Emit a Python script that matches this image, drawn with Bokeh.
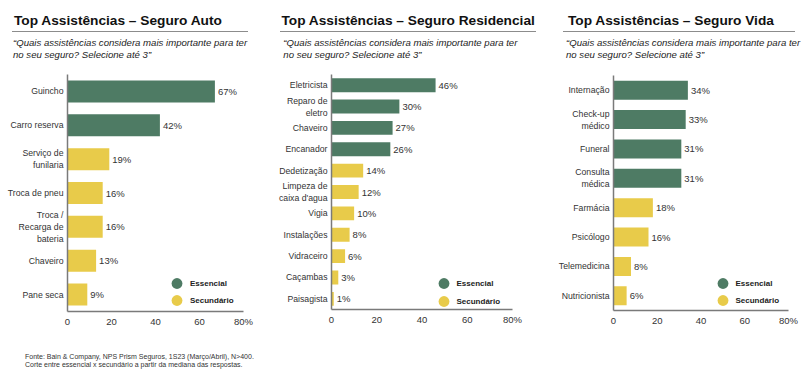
from bokeh.plotting import figure
from bokeh.models import (ColumnDataSource, FactorRange, Range1d, Div,
                          Legend, LegendItem, FixedTicker)
from bokeh.core.properties import value
from bokeh.layouts import row, column
from bokeh.embed import file_html
from bokeh.resources import INLINE

# ---------------- data ----------------
auto_cats = ["Guincho", "Carro reserva", "Serviço de\nfunilaria", "Troca de pneu",
             "Troca /\nRecarga de\nbateria", "Chaveiro", "Pane seca"]
auto_vals = [67, 42, 19, 16, 16, 13, 9]
auto_grp = ["Essencial", "Essencial", "Secundário", "Secundário", "Secundário",
            "Secundário", "Secundário"]

res_cats = ["Eletricista", "Reparo de\neletro", "Chaveiro", "Encanador", "Dedetização",
            "Limpeza de\ncaixa d'agua", "Vigia", "Instalações", "Vidraceiro",
            "Caçambas", "Paisagista"]
res_vals = [46, 30, 27, 26, 14, 12, 10, 8, 6, 3, 1]
res_grp = ["Essencial"] * 4 + ["Secundário"] * 7

vida_cats = ["Internação", "Check-up\nmédico", "Funeral", "Consulta\nmédica",
             "Farmácia", "Psicólogo", "Telemedicina", "Nutricionista"]
vida_vals = [34, 33, 31, 31, 18, 16, 8, 6]
vida_grp = ["Essencial"] * 4 + ["Secundário"] * 4

x_ticks = [0, 20, 40, 60, 80]
x_tick_labels = {80: "80%"}

titles = ["Top Assistências – Seguro Auto",
          "Top Assistências – Seguro Residencial",
          "Top Assistências – Seguro Vida"]
subtitle_lines = ["“Quais assistências considera mais importante para ter",
                  "no seu seguro? Selecione até 3”"]
footnote_lines = ["Fonte: Bain &amp; Company, NPS Prism Seguros, 1S23 (Março/Abril), N&gt;400.",
                  "Corte entre essencial x secundário a partir da mediana das respostas."]
groups = ["Essencial", "Secundário"]

# ---------------- style ----------------
FONT = "Liberation Sans"
GREEN = "#4e7b64"
YELLOW = "#e8cb4a"
COLORS = {"Essencial": GREEN, "Secundário": YELLOW}
AXIS = "#7a7a7a"
HEADER_H = 62


def header(title, width, ul_left, ul_width, title_pad, sub_pad):
    html = (
        f'<div style="padding:11.7px 0 0 {ul_left}px;font-family:\'{FONT}\';white-space:nowrap;">'
        f'<div style="width:{ul_width - title_pad}px;padding-left:{title_pad}px;font-weight:bold;'
        f'font-size:13.7px;line-height:18px;color:#111;border-bottom:1px solid #8c8c8c;'
        f'padding-bottom:1px;">{title}</div>'
        f'<div style="padding-top:5.2px;padding-left:{sub_pad}px;font-style:italic;font-size:9.6px;'
        f'line-height:12px;color:#222;">{subtitle_lines[0]}<br>{subtitle_lines[1]}</div>'
        f'</div>'
    )
    return Div(text=html, width=width, height=HEADER_H, margin=0)


def make_panel(cats, vals, grp, width, height, left, right, top, bottom, legend_locs):
    p = figure(width=width, height=height,
               y_range=FactorRange(factors=list(reversed(cats)), range_padding=0),
               x_range=Range1d(0, 80), output_backend="svg", toolbar_location=None,
               min_border_left=left, min_border_right=right,
               min_border_top=top, min_border_bottom=bottom, margin=0)
    p.outline_line_color = None
    p.xgrid.visible = False
    p.ygrid.visible = False

    renderers = {}
    for g in groups:
        idx = [i for i, gg in enumerate(grp) if gg == g]
        src = ColumnDataSource(dict(cat=[cats[i] for i in idx], val=[vals[i] for i in idx],
                                    lab=[f"{vals[i]}%" for i in idx]))
        p.hbar(y="cat", right="val", left=0, height=0.65, source=src,
               fill_color=COLORS[g], line_color=None)
        p.text(x="val", y="cat", text="lab", source=src, x_offset=3,
               text_baseline="middle", text_align="left", text_font=value(FONT),
               text_font_size="9.5px", text_color="#333333")
        # legend proxy (zero-size markers on the same data)
        renderers[g] = p.scatter(x="val", y="cat", source=src, size=0, marker="circle",
                                 fill_color=COLORS[g], line_color=None)

    p.xaxis.ticker = FixedTicker(ticks=x_ticks)
    p.xaxis.major_label_overrides = x_tick_labels
    for ax in (p.xaxis, p.yaxis):
        ax.axis_line_color = AXIS
        ax.axis_line_width = 1.5
        ax.major_tick_line_color = None
        ax.minor_tick_line_color = None
        ax.major_tick_out = 0
        ax.major_tick_in = 0
        ax.major_label_standoff = 4
        ax.major_label_text_font = FONT
        ax.major_label_text_color = "#333333"
    p.xaxis.major_label_text_font_size = "9.5px"
    p.yaxis.major_label_text_font_size = "8.7px"

    for g, loc in zip(groups, legend_locs):
        leg = Legend(items=[LegendItem(label=g, renderers=[renderers[g]])],
                     location=loc, orientation="vertical",
                     glyph_width=27, glyph_height=28, spacing=0, label_standoff=0,
                     padding=0, margin=0, border_line_color=None, background_fill_alpha=0,
                     label_text_font=FONT, label_text_font_size="8px",
                     label_text_font_style="bold", label_text_color="#222222")
        p.add_layout(leg, "center")
    return p


h1 = header(titles[0], 270, 12, 238, 2, 1)
h2 = header(titles[1], 275, 10, 257, 1.5, 3.3)
h3 = header(titles[2], 262, 18, 237, 5, 3)

p1 = make_panel(auto_cats, auto_vals, auto_grp, 270, 269, 67, 27, 12, 20,
                [(96, 14), (96, -3)])
p2 = make_panel(res_cats, res_vals, res_grp, 275, 267, 61, 33, 12, 20,
                [(98.5, 12), (98.5, -6)])
p3 = make_panel(vida_cats, vida_vals, vida_grp, 262, 268, 68, 19, 13, 20,
                [(95.5, 13), (95.5, -4)])

foot = Div(text=(f'<div style="padding:21.8px 0 0 25px;font-family:\'{FONT}\';font-size:7px;'
                 f'line-height:8.5px;color:#333;white-space:nowrap;">'
                 f'{footnote_lines[0]}<br>{footnote_lines[1]}</div>'),
           width=270, height=44, margin=0)

layout = row(column(h1, p1, foot, spacing=0), column(h2, p2, spacing=0),
             column(h3, p3, spacing=0), spacing=0)
open("out.html", "w").write(file_html(layout, INLINE))
